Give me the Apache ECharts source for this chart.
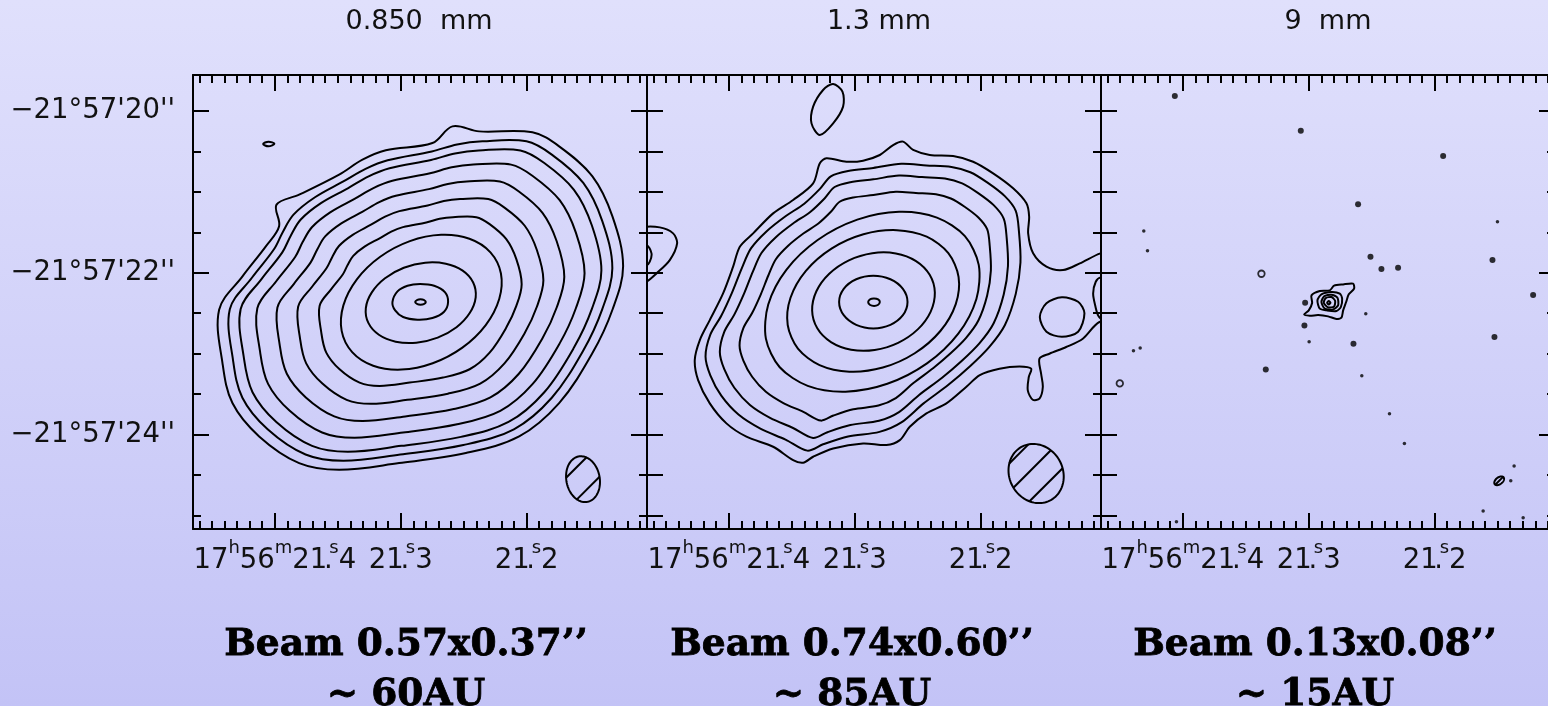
<!DOCTYPE html>
<html>
<head>
<meta charset="utf-8">
<title>Continuum maps</title>
<script src="https://cdn.jsdelivr.net/npm/echarts@6/dist/echarts.min.js"></script>
<style>
html, body { margin: 0; padding: 0; }
#chart { width: 1548px; height: 706px; }
</style>
</head>
<body>
<div id="chart"></div>
<script>
// ---- panel captions -------------------------------------------------------
const WAVELENGTHS = ['0.850  mm', '1.3 mm', '9  mm'];
const BEAM_LABELS = ['Beam 0.57x0.37\u2019\u2019', 'Beam 0.74x0.60\u2019\u2019', 'Beam 0.13x0.08\u2019\u2019'];
const BEAM_AU = ['~ 60AU', '~ 85AU', '~ 15AU'];

// synthesized beams: [major ″, minor ″, position angle °]
const BEAMS = [[0.57, 0.37, 8], [0.74, 0.60, 15], [0.13, 0.08, -45]];
// beam centres, arcsec offsets [east, north] from the source
const BEAM_CENTRES = [[-1.80, -2.19], [-1.79, -2.12], [-1.89, -2.21]];

// ---- map frame: RA seconds of 17h56m, Dec arcsec of -21°57' ----------------
const RA_RANGE = [21.1044, 21.4650];
const DEC_RANGE = [-25.168, -19.555];
const SOURCE = [21.2846, -22.362];
const RA_TICKS = [21.2, 21.3, 21.4];
const DEC_TICKS = [-24, -22, -20];

// ---- contours, arcsec offsets [east, north] from the source ----------------
const CONTOURS_850 = [
  [[2.221,-0.095],[1.963,0.317],[1.705,0.688],[1.558,0.936],[1.587,1.204],[1.337,1.327],[0.895,1.575],[0.637,1.760],[0.379,1.876],[-0.136,1.966],[-0.357,2.172],[-0.652,2.110],[-1.241,2.098],[-1.536,1.925],[-1.904,1.554],[-2.125,1.059],[-2.243,0.441],[-2.125,-0.095],[-1.904,-0.631],[-1.536,-1.249],[-1.094,-1.661],[-0.505,-1.867],[0.232,-1.991],[0.895,-2.073],[1.337,-1.991],[1.779,-1.661],[2.074,-1.249],[2.184,-0.754]],
  [[2.103,-0.090],[1.859,0.300],[1.615,0.652],[1.517,0.867],[1.399,1.081],[1.162,1.296],[0.848,1.492],[0.603,1.647],[0.359,1.753],[-0.129,1.862],[-0.408,1.948],[-0.688,1.987],[-1.175,1.987],[-1.455,1.823],[-1.803,1.472],[-2.012,1.003],[-2.124,0.418],[-2.012,-0.090],[-1.803,-0.598],[-1.455,-1.183],[-1.036,-1.573],[-0.478,-1.768],[0.220,-1.885],[0.848,-1.963],[1.266,-1.885],[1.685,-1.573],[1.964,-1.183],[2.068,-0.714]],
  [[1.983,-0.085],[1.753,0.283],[1.523,0.614],[1.431,0.817],[1.319,1.020],[1.096,1.223],[0.799,1.406],[0.569,1.553],[0.338,1.653],[-0.121,1.756],[-0.385,1.837],[-0.648,1.874],[-1.108,1.874],[-1.372,1.719],[-1.700,1.388],[-1.898,0.946],[-2.003,0.394],[-1.898,-0.085],[-1.700,-0.563],[-1.372,-1.115],[-0.977,-1.483],[-0.451,-1.667],[0.207,-1.778],[0.799,-1.851],[1.194,-1.778],[1.589,-1.483],[1.852,-1.115],[1.950,-0.673]],
  [[1.799,-0.077],[1.590,0.257],[1.381,0.557],[1.298,0.741],[1.196,0.925],[0.994,1.109],[0.725,1.276],[0.516,1.409],[0.307,1.499],[-0.110,1.592],[-0.349,1.666],[-0.588,1.699],[-1.005,1.699],[-1.244,1.559],[-1.542,1.259],[-1.721,0.858],[-1.817,0.357],[-1.721,-0.077],[-1.542,-0.511],[-1.244,-1.012],[-0.886,-1.345],[-0.409,-1.512],[0.188,-1.613],[0.725,-1.679],[1.083,-1.613],[1.441,-1.345],[1.680,-1.012],[1.769,-0.611]],
  [[1.577,-0.067],[1.394,0.225],[1.211,0.488],[1.137,0.650],[1.049,0.811],[0.871,0.972],[0.635,1.118],[0.452,1.235],[0.269,1.314],[-0.097,1.396],[-0.306,1.460],[-0.515,1.490],[-0.881,1.490],[-1.091,1.367],[-1.352,1.103],[-1.509,0.752],[-1.593,0.313],[-1.509,-0.067],[-1.352,-0.448],[-1.091,-0.887],[-0.777,-1.179],[-0.359,-1.326],[0.165,-1.414],[0.635,-1.472],[0.949,-1.414],[1.263,-1.179],[1.473,-0.887],[1.551,-0.535]],
  [[1.348,-0.058],[1.192,0.192],[1.035,0.418],[0.972,0.555],[0.897,0.693],[0.745,0.831],[0.543,0.956],[0.387,1.056],[0.230,1.124],[-0.083,1.193],[-0.262,1.249],[-0.441,1.273],[-0.753,1.273],[-0.932,1.168],[-1.156,0.943],[-1.290,0.643],[-1.362,0.268],[-1.290,-0.058],[-1.156,-0.383],[-0.932,-0.758],[-0.664,-1.008],[-0.307,-1.133],[0.141,-1.209],[0.543,-1.258],[0.812,-1.209],[1.080,-1.008],[1.259,-0.758],[1.326,-0.458]],
  [[1.111,-0.048],[0.982,0.159],[0.853,0.344],[0.801,0.458],[0.739,0.571],[0.614,0.685],[0.448,0.788],[0.319,0.870],[0.190,0.926],[-0.068,0.983],[-0.216,1.029],[-0.363,1.049],[-0.621,1.049],[-0.768,0.963],[-0.952,0.777],[-1.063,0.530],[-1.122,0.221],[-1.063,-0.048],[-0.952,-0.316],[-0.768,-0.625],[-0.547,-0.831],[-0.253,-0.934],[0.116,-0.996],[0.448,-1.037],[0.669,-0.996],[0.890,-0.831],[1.037,-0.625],[1.092,-0.377]],
  [[-0.777,0.615],[-0.545,0.783],[-0.232,0.831],[0.113,0.753],[0.441,0.560],[0.699,0.281],[0.848,-0.041],[0.867,-0.357],[0.751,-0.619],[0.519,-0.787],[0.206,-0.835],[-0.139,-0.757],[-0.467,-0.564],[-0.725,-0.285],[-0.874,0.037],[-0.893,0.353]],
  [[-0.586,0.242],[-0.470,0.388],[-0.284,0.474],[-0.056,0.487],[0.180,0.424],[0.388,0.295],[0.534,0.120],[0.600,-0.074],[0.572,-0.258],[0.456,-0.404],[0.270,-0.490],[0.042,-0.503],[-0.194,-0.440],[-0.402,-0.311],[-0.548,-0.136],[-0.614,0.058]],
  [[0.306,0],[0.250,0.132],[0.140,0.202],[0,0.223],[-0.155,0.202],[-0.276,0.120],[-0.309,0],[-0.265,-0.120],[-0.136,-0.198],[0.029,-0.218],[0.188,-0.185],[0.276,-0.103]],
  [[0.055,0],[0.030,0.027],[-0.004,0.033],[-0.040,0.027],[-0.063,0],[-0.040,-0.027],[-0.004,-0.033],[0.030,-0.027]],
  [[1.735,1.954],[1.676,1.983],[1.610,1.958],[1.676,1.925]]
];
const CONTOURS_1300 = [
  [[0.600,1.715],[0.527,1.777],[0.306,1.735],[0.122,1.748],[-0.063,1.818],[-0.210,1.941],[-0.320,1.983],[-0.431,1.880],[-0.615,1.818],[-0.873,1.805],[-1.094,1.735],[-1.315,1.591],[-1.536,1.406],[-1.683,1.220],[-1.713,1.055],[-1.702,0.849],[-1.757,0.602],[-1.904,0.437],[-2.088,0.396],[-2.273,0.478],[-2.501,0.602],[-2.715,0.643],[-2.862,0.190],[-2.715,-0.243],[-2.490,-0.247],[-2.306,-0.453],[-2.122,-0.556],[-1.937,-0.639],[-1.827,-0.701],[-1.845,-0.886],[-1.864,-1.051],[-1.827,-1.195],[-1.753,-1.208],[-1.698,-1.092],[-1.709,-0.927],[-1.735,-0.824],[-1.606,-0.796],[-1.385,-0.824],[-1.168,-0.903],[-1.020,-1.047],[-0.799,-1.253],[-0.578,-1.377],[-0.394,-1.542],[-0.284,-1.707],[-0.136,-1.768],[0.122,-1.748],[0.453,-1.810],[0.674,-1.913],[0.785,-1.987],[0.895,-1.954],[1.116,-1.789],[1.411,-1.665],[1.632,-1.500],[1.816,-1.253],[1.945,-0.965],[1.982,-0.717],[1.926,-0.470],[1.816,-0.223],[1.669,0.107],[1.558,0.437],[1.484,0.684],[1.337,0.849],[1.116,1.096],[0.895,1.261],[0.674,1.467]],
  [[1.863,-0.674],[1.810,-0.403],[1.689,-0.170],[1.569,0.120],[1.465,0.411],[1.361,0.663],[1.187,0.876],[0.979,1.061],[0.772,1.216],[0.599,1.399],[0.478,1.554],[0.288,1.620],[0.010,1.658],[-0.301,1.709],[-0.578,1.689],[-0.855,1.670],[-1.063,1.605],[-1.253,1.476],[-1.444,1.309],[-1.565,1.128],[-1.600,0.876],[-1.617,0.488],[-1.565,0.101],[-1.444,-0.287],[-1.271,-0.558],[-1.063,-0.791],[-0.821,-1.023],[-0.543,-1.256],[-0.301,-1.488],[-0.059,-1.605],[0.288,-1.662],[0.564,-1.759],[0.738,-1.837],[0.979,-1.701],[1.257,-1.565],[1.499,-1.391],[1.689,-1.158],[1.810,-0.907]],
  [[1.705,-0.617],[1.656,-0.369],[1.545,-0.156],[1.435,0.110],[1.340,0.376],[1.245,0.606],[1.086,0.802],[0.896,0.971],[0.706,1.113],[0.548,1.280],[0.437,1.422],[0.263,1.482],[0.009,1.517],[-0.275,1.563],[-0.529,1.545],[-0.783,1.528],[-0.973,1.468],[-1.146,1.350],[-1.321,1.198],[-1.432,1.032],[-1.464,0.802],[-1.479,0.446],[-1.432,0.092],[-1.321,-0.262],[-1.163,-0.511],[-0.973,-0.723],[-0.751,-0.936],[-0.497,-1.149],[-0.275,-1.361],[-0.054,-1.468],[0.263,-1.520],[0.516,-1.609],[0.675,-1.680],[0.896,-1.557],[1.150,-1.432],[1.372,-1.273],[1.545,-1.060],[1.656,-0.830]],
  [[1.487,-0.538],[1.445,-0.322],[1.348,-0.136],[1.252,0.096],[1.169,0.328],[1.086,0.529],[0.947,0.699],[0.782,0.847],[0.616,0.971],[0.478,1.116],[0.381,1.240],[0.230,1.292],[0.008,1.323],[-0.240,1.364],[-0.461,1.348],[-0.683,1.333],[-0.848,1.280],[-1.000,1.178],[-1.152,1.045],[-1.249,0.900],[-1.277,0.699],[-1.290,0.389],[-1.249,0.080],[-1.152,-0.229],[-1.014,-0.446],[-0.848,-0.631],[-0.655,-0.816],[-0.434,-1.002],[-0.240,-1.187],[-0.047,-1.280],[0.230,-1.326],[0.450,-1.403],[0.589,-1.466],[0.782,-1.358],[1.003,-1.249],[1.196,-1.110],[1.348,-0.924],[1.445,-0.724]],
  [[-1.003,0.814],[-0.694,1.044],[-0.276,1.116],[0.186,1.019],[0.624,0.767],[0.970,0.399],[1.170,-0.030],[1.196,-0.452],[1.043,-0.806],[0.734,-1.036],[0.316,-1.108],[-0.146,-1.011],[-0.584,-0.759],[-0.930,-0.391],[-1.130,0.038],[-1.156,0.460]],
  [[-0.820,0.605],[-0.581,0.808],[-0.252,0.889],[0.118,0.838],[0.471,0.661],[0.754,0.386],[0.924,0.053],[0.955,-0.284],[0.842,-0.577],[0.603,-0.780],[0.274,-0.861],[-0.096,-0.810],[-0.449,-0.633],[-0.732,-0.358],[-0.902,-0.025],[-0.933,0.312]],
  [[-0.614,0.337],[-0.463,0.507],[-0.240,0.601],[0.020,0.604],[0.279,0.516],[0.496,0.350],[0.638,0.133],[0.685,-0.105],[0.628,-0.325],[0.477,-0.495],[0.254,-0.589],[-0.006,-0.592],[-0.265,-0.504],[-0.482,-0.338],[-0.624,-0.121],[-0.671,0.117]],
  [[-0.369,0],[-0.318,0.163],[-0.180,0.282],[0.009,0.326],[0.198,0.282],[0.336,0.163],[0.387,0],[0.336,-0.163],[0.198,-0.282],[0.009,-0.326],[-0.180,-0.282],[-0.318,-0.163]],
  [[0.066,0],[0.041,0.037],[0,0.045],[-0.044,0.033],[-0.063,0],[-0.041,-0.037],[0,-0.049],[0.044,-0.037]],
  [[0.600,2.065],[0.692,2.209],[0.674,2.416],[0.564,2.622],[0.453,2.696],[0.350,2.601],[0.343,2.416],[0.453,2.209]],
  [[-1.831,-0.185],[-1.904,-0.016],[-2.074,0.058],[-2.254,0.004],[-2.324,-0.140],[-2.254,-0.367],[-2.074,-0.429],[-1.904,-0.367]],
  [[-2.501,0.305],[-2.449,0.251],[-2.420,0.107],[-2.446,-0.058],[-2.479,-0.173],[-2.530,-0.214],[-2.678,-0.058],[-2.696,0.148],[-2.604,0.293]],
  [[2.810,0.849],[2.589,0.923],[2.368,0.923],[2.221,0.849],[2.177,0.725],[2.258,0.519],[2.405,0.354],[2.516,0.251],[2.663,0.190],[2.810,0.354]],
  [[2.626,0.643],[2.516,0.705],[2.460,0.602],[2.479,0.499],[2.516,0.458],[2.626,0.519]]
];
const CONTOURS_9MM = [
  [[0.265,-0.153],[0.214,-0.103],[0.177,-0.012],[0.184,0.082],[0.092,0.136],[-0.018,0.144],[-0.066,0.202],[-0.166,0.218],[-0.276,0.227],[-0.287,0.165],[-0.228,0.095],[-0.199,0],[-0.166,-0.103],[-0.147,-0.194],[-0.092,-0.210],[0,-0.177],[0.110,-0.161],[0.203,-0.169]],
  [[0.118,0.021],[0.074,0.095],[-0.037,0.124],[-0.129,0.103],[-0.155,0.041],[-0.140,-0.062],[-0.092,-0.111],[0.018,-0.103],[0.092,-0.082]],
  [[0.074,0],[0.044,0.070],[-0.037,0.091],[-0.103,0.054],[-0.110,-0.041],[-0.055,-0.091],[0.037,-0.082]],
  [[0.048,-0.008],[0.026,0.049],[-0.037,0.062],[-0.077,0.016],[-0.066,-0.054],[0,-0.066]],
  [[0.011,-0.008],[-0.007,0.012],[-0.026,-0.008],[-0.007,-0.029]]
];
// compact noise peaks in the 9 mm map
const NOISE_PEAKS_9MM = [[1.694,2.547],[0.302,2.119],[-1.271,1.805],[-0.331,1.208],[-0.468,0.561],[-0.589,0.408],[-0.773,0.425],[-1.816,0.519],[0.254,-0.008],[-2.265,0.087],[0.262,-0.289],[-0.280,-0.515],[-1.838,-0.433],[0.689,-0.833]];
const NOISE_SPECKS_9MM = [[-1.871,0.993],[2.037,0.878],[1.996,0.635],[-0.416,-0.144],[0.210,-0.491],[2.151,-0.602],[2.077,-0.569],[-0.372,-0.911],[-0.678,-1.381],[-0.843,-1.748],[-2.055,-2.028],[-2.018,-2.209],[-1.713,-2.585],[-2.155,-2.667],[1.676,-2.716]];
const NOISE_RINGS_9MM = [[0.737,0.350],[2.302,-1.006]];

// ---- drawing styles --------------------------------------------------------
const GRID_LEFT = [193, 647, 1101];
const GRID_TOP = 75, GRID_SIZE = 454;
const HATCH_OFFSETS = [[-13, 10], [-26, -6, 15], [0]];
const TITLE_X = [419, 879, 1328];
const CAPTION_X = [406, 852, 1315];
const INK = '#000';
const TEXT = '#111';
const SANS = 'DejaVu Sans';

const ARCSEC_PER_RA_SEC = 15 * Math.cos((21 + 57 / 60 + 22.4 / 3600) * Math.PI / 180);
function toData(p) {
  return [SOURCE[0] + p[0] / ARCSEC_PER_RA_SEC, SOURCE[1] + p[1]];
}

const RA_MINOR = [];
for (let k = 11; k <= 46; k++) RA_MINOR.push(21 + k / 100);
const DEC_MINOR = [];
for (let k = -50; k <= -40; k++) DEC_MINOR.push(k / 2);

function raLabel(v) {
  const s = Math.floor(v + 1e-6), d = Math.round((v - s) * 10);
  const tail = '{n|' + s + '}{d|.}{s|s}{n|' + d + '}';
  return Math.abs(v - 21.4) < 1e-6 ? '{n|17}{s|h}{n|56}{s|m}' + tail : tail;
}
function decLabel(v) {
  return '\u221221\u00b057\'' + Math.round(-v) + '\'\'';
}

const RA_RICH = {
  n: { fontFamily: SANS, fontSize: 27.5, color: TEXT, lineHeight: 44 },
  s: { fontFamily: SANS, fontSize: 18, color: TEXT, lineHeight: 18, verticalAlign: 'top' },
  d: { fontFamily: SANS, fontSize: 27.5, color: TEXT, lineHeight: 44, width: 2 }
};

function tickStyle(len, values) {
  return { show: true, inside: true, length: len, customValues: values, lineStyle: { color: INK, width: 2 } };
}

const xAxes = [], yAxes = [];
GRID_LEFT.forEach((_, g) => {
  const xBase = { type: 'value', gridIndex: g, min: RA_RANGE[0], max: RA_RANGE[1], inverse: true, splitLine: { show: false } };
  const yBase = { type: 'value', gridIndex: g, min: DEC_RANGE[0], max: DEC_RANGE[1], splitLine: { show: false } };
  const line = { show: true, onZero: false, lineStyle: { color: INK, width: 2 } };
  const noLine = { show: false };
  xAxes.push(Object.assign({}, xBase, {
    position: 'bottom', axisLine: line, axisTick: tickStyle(16, RA_TICKS),
    axisLabel: { customValues: RA_TICKS, formatter: raLabel, rich: RA_RICH, margin: 10 }
  }));
  xAxes.push(Object.assign({}, xBase, { position: 'bottom', axisLine: noLine, axisTick: tickStyle(8, RA_MINOR), axisLabel: { show: false } }));
  xAxes.push(Object.assign({}, xBase, { position: 'top', axisLine: line, axisTick: tickStyle(16, RA_TICKS), axisLabel: { show: false } }));
  xAxes.push(Object.assign({}, xBase, { position: 'top', axisLine: noLine, axisTick: tickStyle(8, RA_MINOR), axisLabel: { show: false } }));

  yAxes.push(Object.assign({}, yBase, {
    position: 'left', axisLine: line, axisTick: tickStyle(16, DEC_TICKS),
    axisLabel: g === 0
      ? { customValues: DEC_TICKS, formatter: decLabel, fontFamily: SANS, fontSize: 27.5, color: TEXT, margin: 18 }
      : { show: false }
  }));
  yAxes.push(Object.assign({}, yBase, { position: 'left', axisLine: noLine, axisTick: tickStyle(g === 0 ? 8 : 16, DEC_MINOR), axisLabel: { show: false } }));
  yAxes.push(Object.assign({}, yBase, { position: 'right', axisLine: line, axisTick: tickStyle(16, DEC_TICKS), axisLabel: { show: false } }));
  yAxes.push(Object.assign({}, yBase, { position: 'right', axisLine: noLine, axisTick: tickStyle(8, DEC_MINOR), axisLabel: { show: false } }));
});

function contourSeries(g, contours, smooth) {
  return {
    type: 'custom', xAxisIndex: g * 4, yAxisIndex: g * 4, clip: true, silent: true, animation: false,
    data: contours.map(c => toData(c[0])),
    renderItem(params, api) {
      const pts = contours[params.dataIndex].map(p => api.coord(toData(p)));
      return { type: 'polygon', shape: { points: pts, smooth: smooth }, style: { fill: 'none', stroke: INK, lineWidth: 2 } };
    }
  };
}

function beamSeries(g) {
  const [maj, mnr, pa] = BEAMS[g];
  const c = BEAM_CENTRES[g];
  return {
    type: 'custom', xAxisIndex: g * 4, yAxisIndex: g * 4, clip: true, silent: true, animation: false,
    data: [toData(c)],
    renderItem(params, api) {
      const th = pa * Math.PI / 180;
      const pts = [];
      for (let k = 0; k < 96; k++) {
        const t = 2 * Math.PI * k / 96;
        const a = mnr / 2 * Math.cos(t), b = maj / 2 * Math.sin(t);
        pts.push(api.coord(toData([c[0] + a * Math.cos(th) + b * Math.sin(th), c[1] - a * Math.sin(th) + b * Math.cos(th)])));
      }
      const ctr = api.coord(toData(c));
      const children = [{ type: 'polygon', shape: { points: pts }, style: { fill: 'none', stroke: INK, lineWidth: 2 } }];
      HATCH_OFFSETS[g].forEach(off => {
        const k0 = ctr[0] + ctr[1] + off * Math.SQRT2;
        const hits = [];
        for (let i = 0; i < pts.length; i++) {
          const p = pts[i], q = pts[(i + 1) % pts.length];
          const fp = p[0] + p[1] - k0, fq = q[0] + q[1] - k0;
          if ((fp <= 0 && fq > 0) || (fp > 0 && fq <= 0)) {
            const t = fp / (fp - fq);
            hits.push([p[0] + t * (q[0] - p[0]), p[1] + t * (q[1] - p[1])]);
          }
        }
        if (hits.length >= 2) {
          children.push({ type: 'line', shape: { x1: hits[0][0], y1: hits[0][1], x2: hits[1][0], y2: hits[1][1] }, style: { stroke: INK, lineWidth: 2 } });
        }
      });
      return { type: 'group', children: children };
    }
  };
}

function dotSeries(points, size, hollow) {
  return {
    type: 'scatter', xAxisIndex: 8, yAxisIndex: 8, silent: true, animation: false,
    symbol: 'circle', symbolSize: size,
    itemStyle: hollow ? { color: 'rgba(0,0,0,0)', borderColor: INK, borderWidth: 1.8 } : { color: INK },
    data: points.map(toData)
  };
}

const option = {
  animation: false,
  backgroundColor: { type: 'linear', x: 0, y: 0, x2: 0, y2: 1, colorStops: [{ offset: 0, color: '#e0e0fc' }, { offset: 1, color: '#c3c3f6' }] },
  title: WAVELENGTHS.map((t, i) => ({
    text: t, left: TITLE_X[i], top: 22, padding: 0, textAlign: 'center', textVerticalAlign: 'middle',
    textStyle: { fontFamily: SANS, fontSize: 27, fontWeight: 'normal', color: TEXT }
  })).concat(BEAM_LABELS.map((t, i) => ({
    text: t + '\n' + BEAM_AU[i], left: CAPTION_X[i], top: 670, padding: 0, textAlign: 'center', textVerticalAlign: 'middle',
    textStyle: { fontFamily: 'DejaVu Serif', fontSize: 37.5, fontWeight: 'bold', lineHeight: 50, color: INK, textBorderColor: INK, textBorderWidth: 0.8 }
  }))),
  grid: GRID_LEFT.map(l => ({ left: l, top: GRID_TOP, width: GRID_SIZE, height: GRID_SIZE, containLabel: false, outerBoundsMode: 'none' })),
  xAxis: xAxes,
  yAxis: yAxes,
  series: [
    contourSeries(0, CONTOURS_850, 0.35),
    contourSeries(1, CONTOURS_1300, 0.3),
    contourSeries(2, CONTOURS_9MM, 0.25),
    beamSeries(0), beamSeries(1), beamSeries(2),
    dotSeries(NOISE_PEAKS_9MM, 6, false),
    dotSeries(NOISE_SPECKS_9MM, 3.5, false),
    dotSeries(NOISE_RINGS_9MM, 6.5, true)
  ]
};

const chart = echarts.init(document.getElementById('chart'), null, { renderer: 'canvas' });
chart.setOption(option);
</script>
</body>
</html>
